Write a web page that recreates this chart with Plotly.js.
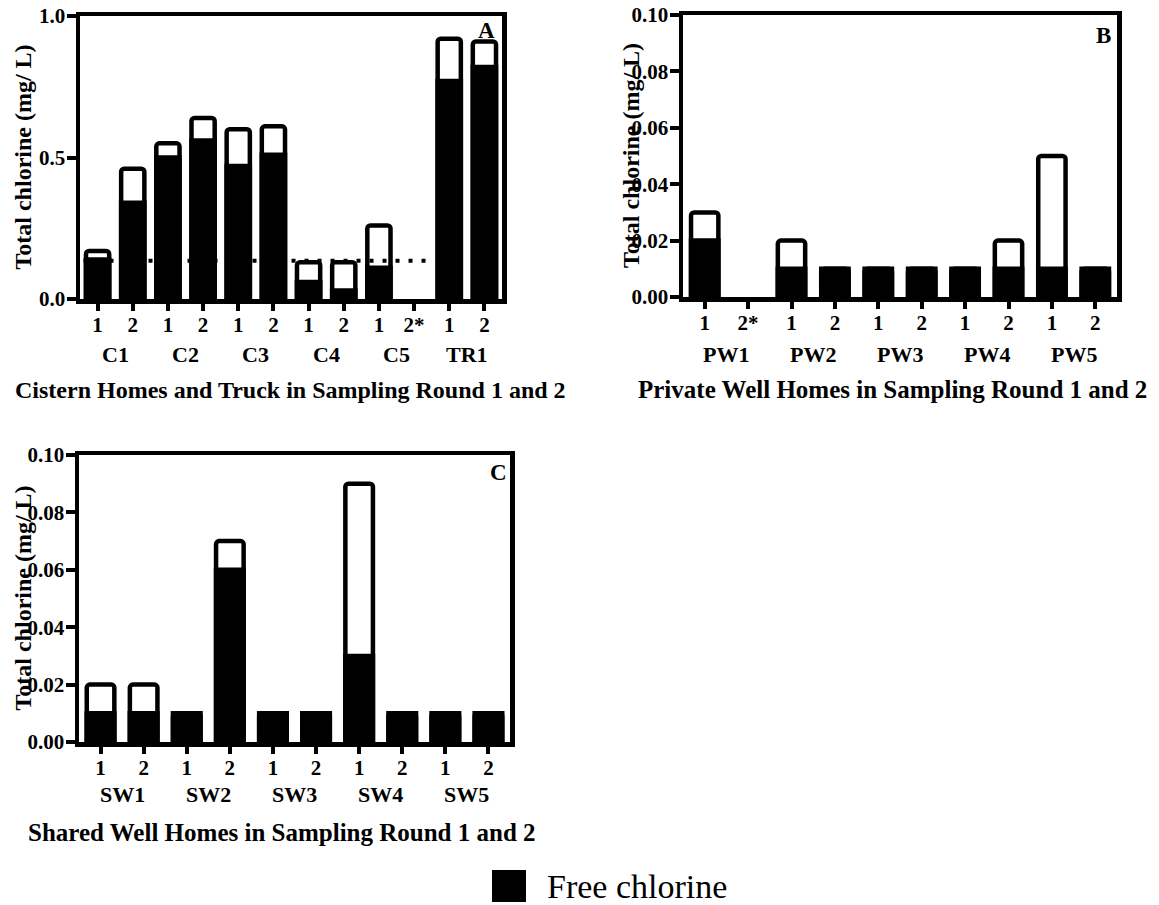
<!DOCTYPE html>
<html>
<head>
<meta charset="utf-8">
<script src="https://cdn.plot.ly/plotly-3.0.1.min.js"></script>
<style>html,body{margin:0;padding:0;background:#fff;}#chart{width:1159px;height:905px;}</style>
</head>
<body>
<div id="chart"></div>
<script>
// ---------- DATA ----------
const cisternGroups = ['C1', 'C2', 'C3', 'C4', 'C5', 'TR1'];
const cisternRounds = ['1', '2', '1', '2', '1', '2', '1', '2', '1', '2*', '1', '2'];
const cisternTotal  = [0.17, 0.46, 0.55, 0.64, 0.60, 0.61, 0.13, 0.13, 0.26, null, 0.92, 0.91];
const cisternFree   = [0.14, 0.34, 0.50, 0.56, 0.47, 0.51, 0.06, 0.03, 0.11, null, 0.77, 0.82];
const cisternLimit  = 0.135;

const privateGroups = ['PW1', 'PW2', 'PW3', 'PW4', 'PW5'];
const privateRounds = ['1', '2*', '1', '2', '1', '2', '1', '2', '1', '2'];
const privateTotal  = [0.03, null, 0.02, 0.01, 0.01, 0.01, 0.01, 0.02, 0.05, 0.01];
const privateFree   = [0.02, null, 0.01, 0.01, 0.01, 0.01, 0.01, 0.01, 0.01, 0.01];

const sharedGroups = ['SW1', 'SW2', 'SW3', 'SW4', 'SW5'];
const sharedRounds = ['1', '2', '1', '2', '1', '2', '1', '2', '1', '2'];
const sharedTotal  = [0.02, 0.02, 0.01, 0.07, 0.01, 0.01, 0.09, 0.01, 0.01, 0.01];
const sharedFree   = [0.01, 0.01, 0.01, 0.06, 0.01, 0.01, 0.03, 0.01, 0.01, 0.01];

const xTitles = ['Cistern Homes and Truck in Sampling Round 1 and 2',
                 'Private Well Homes in Sampling Round 1 and 2',
                 'Shared Well Homes in Sampling Round 1 and 2'];
const yTitle = 'Total chlorine (mg/ L)';
const panelLetters = ['A', 'B', 'C'];
const legendLabel = 'Free chlorine';

// ---------- LAYOUT HELPERS ----------
const W = 1159, H = 905;
const px = v => v / W;
const py = v => 1 - v / H;
const FONT = 'Liberation Serif, Times New Roman, serif';

const panels = [
  {rounds: cisternRounds, groups: cisternGroups, total: cisternTotal, free: cisternFree,
   x0: 80, x1: 502, y0: 16, y1: 299, range: [0, 1.0], dtick: 0.5, fmt: '.1f', bw: 0.66,
   tickY: 354, titleY: 390, titleX: 290, titleSize: 24, yTitleX: 22, letterX: 486, letterY: 30},
  {rounds: privateRounds, groups: privateGroups, total: privateTotal, free: privateFree,
   x0: 683, x1: 1117, y0: 15, y1: 297, range: [0, 0.10], dtick: 0.02, fmt: '.2f', bw: 0.63,
   tickY: 354, titleY: 389, titleX: 892, titleSize: 25, yTitleX: 631, letterX: 1103, letterY: 35},
  {rounds: sharedRounds, groups: sharedGroups, total: sharedTotal, free: sharedFree,
   x0: 79, x1: 510, y0: 455, y1: 742, range: [0, 0.10], dtick: 0.02, fmt: '.2f', bw: 0.64,
   tickY: 794, titleY: 832, titleX: 282, titleSize: 25, yTitleX: 22, letterX: 498, letterY: 473}
];

const traces = [];
const layout = {
  width: W, height: H,
  margin: {l: 0, r: 0, t: 0, b: 0},
  paper_bgcolor: '#fff', plot_bgcolor: '#fff',
  showlegend: false,
  barmode: 'overlay',
  font: {family: FONT, color: '#000'},
  annotations: [], shapes: []
};

panels.forEach((p, i) => {
  const sfx = i === 0 ? '' : String(i + 1);
  const xa = 'x' + sfx, ya = 'y' + sfx;
  const idx = p.rounds.map((_, k) => k);
  traces.push({
    type: 'bar', x: idx, y: p.total, xaxis: xa, yaxis: ya, width: p.bw,
    marker: {color: '#fff', line: {color: '#000', width: 4.5}, cornerradius: 3},
    hoverinfo: 'skip', showlegend: false
  });
  traces.push({
    type: 'bar', x: idx, y: p.free, xaxis: xa, yaxis: ya, width: p.bw, name: legendLabel,
    marker: {color: '#000', line: {color: '#000', width: 4.5}},
    hoverinfo: 'skip', showlegend: false
  });
  const axisCommon = {
    showgrid: false, zeroline: false, showline: true, mirror: true,
    linecolor: '#000', linewidth: 4.5, ticks: 'outside', tickcolor: '#000',
    tickwidth: 4, fixedrange: true
  };
  layout['xaxis' + sfx] = Object.assign({}, axisCommon, {
    domain: [px(p.x0), px(p.x1)], anchor: ya, range: [-0.5, p.rounds.length - 0.5],
    tickvals: idx, ticktext: p.rounds, ticklen: 7, ticklabelstandoff: -4,
    tickfont: {family: FONT, size: 21, color: '#000', weight: 'bold'}
  });
  layout['yaxis' + sfx] = Object.assign({}, axisCommon, {
    domain: [py(p.y1), py(p.y0)], anchor: xa, range: p.range, dtick: p.dtick,
    tick0: 0, tickformat: p.fmt, ticklen: 9, ticklabelstandoff: -3,
    tickfont: {family: FONT, size: 21, color: '#000', weight: 'bold'}
  });
  // group labels
  p.groups.forEach((g, k) => {
    layout.annotations.push({
      text: '<b>' + g + '</b>', xref: xa, yref: 'paper', x: 2 * k + 0.5, y: py(p.tickY),
      xanchor: 'center', yanchor: 'middle', showarrow: false,
      font: {family: FONT, size: 22, color: '#000'}
    });
  });
  // x title
  layout.annotations.push({
    text: '<b>' + xTitles[i] + '</b>', xref: 'paper', yref: 'paper',
    x: px(p.titleX), y: py(p.titleY), xanchor: 'center', yanchor: 'middle',
    showarrow: false, font: {family: FONT, size: p.titleSize, color: '#000'}
  });
  // y title
  layout.annotations.push({
    text: '<b>' + yTitle + '</b>', xref: 'paper', yref: 'paper', textangle: -90,
    x: px(p.yTitleX), y: py((p.y0 + p.y1) / 2), xanchor: 'center', yanchor: 'middle',
    showarrow: false, font: {family: FONT, size: 24, color: '#000'}
  });
  // panel letter
  layout.annotations.push({
    text: '<b>' + panelLetters[i] + '</b>', xref: 'paper', yref: 'paper',
    x: px(p.letterX), y: py(p.letterY), xanchor: 'center', yanchor: 'middle',
    showarrow: false, font: {family: FONT, size: 23, color: '#000'}
  });
});

// dotted reference line in panel A (spans C1 .. C5 categories)
traces.push({
  type: 'scatter', mode: 'lines', xaxis: 'x', yaxis: 'y',
  x: [-0.4, cisternRounds.indexOf('2*') + 0.4], y: [cisternLimit, cisternLimit],
  line: {color: '#000', width: 4, dash: '4px,9px'},
  hoverinfo: 'skip', showlegend: false
});

// legend (drawn manually for a large key)
layout.shapes.push({
  type: 'rect', xref: 'paper', yref: 'paper',
  x0: px(492), x1: px(526), y0: py(902), y1: py(870),
  fillcolor: '#000', line: {width: 0}
});
layout.annotations.push({
  text: legendLabel, xref: 'paper', yref: 'paper', x: px(545), y: py(886),
  xanchor: 'left', yanchor: 'middle', showarrow: false,
  font: {family: FONT, size: 34, color: '#000'}
});

Plotly.newPlot('chart', traces, layout, {staticPlot: true, displayModeBar: false});
</script>
</body>
</html>
